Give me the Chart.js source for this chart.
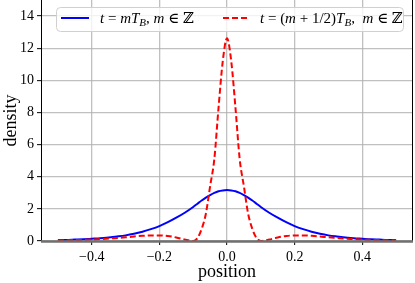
<!DOCTYPE html>
<html>
<head>
<meta charset="utf-8">
<script src="https://cdn.jsdelivr.net/npm/chart.js@4/dist/chart.umd.min.js"></script>
<style>
  html, body { margin: 0; padding: 0; background: #fff; }
  #wrap { width: 415px; height: 283px; }
</style>
</head>
<body>
<div id="wrap"><canvas id="chart" width="415" height="283"></canvas></div>
<script>
// ── Data ─────────────────────────────────────────────────────────────────
const positions = [
  -0.5, -0.475, -0.45, -0.425, -0.4, -0.375, -0.35, -0.325, -0.3, -0.275,
  -0.25, -0.225, -0.2, -0.175, -0.15, -0.125, -0.1, -0.0875, -0.075, -0.0625,
  -0.05, -0.0375, -0.025, -0.0125, 0,
  0.0125, 0.025, 0.0375, 0.05, 0.0625, 0.075, 0.0875, 0.1, 0.125, 0.15,
  0.175, 0.2, 0.225, 0.25, 0.275, 0.3, 0.325, 0.35, 0.375, 0.4,
  0.425, 0.45, 0.475, 0.5
];

// t = m T_B
const densityWhole = [
  0.06, 0.07, 0.09, 0.11, 0.14, 0.17, 0.22, 0.28, 0.35, 0.45,
  0.58, 0.74, 0.93, 1.17, 1.45, 1.76, 2.12, 2.32, 2.52, 2.70,
  2.86, 3.00, 3.10, 3.15, 3.17,
  3.15, 3.10, 3.00, 2.86, 2.70, 2.52, 2.32, 2.12, 1.76, 1.45,
  1.17, 0.93, 0.74, 0.58, 0.45, 0.35, 0.28, 0.22, 0.17, 0.14,
  0.11, 0.09, 0.07, 0.06
];

// t = (m + 1/2) T_B
const densityHalf = [
  0.04, 0.05, 0.06, 0.07, 0.09, 0.12, 0.15, 0.19, 0.23, 0.28,
  0.32, 0.35, 0.35, 0.31, 0.22, 0.09, 0.00, 0.18, 0.75, 1.70,
  3.40, 5.10, 8.30, 11.20, 12.62,
  11.20, 8.30, 5.10, 3.40, 1.70, 0.75, 0.18, 0.00, 0.09, 0.22,
  0.31, 0.35, 0.35, 0.32, 0.28, 0.23, 0.19, 0.15, 0.12, 0.09,
  0.07, 0.06, 0.05, 0.04
];

const xTicks = [-0.4, -0.2, 0.0, 0.2, 0.4];
const yTicks = [0, 2, 4, 6, 8, 10, 12, 14];

const SERIF = '"Liberation Serif", "DejaVu Serif", serif';
const GRID = 'rgba(176,176,176,0.8)';

// ── Frame (spines) drawn over the grid ─────────────────────────────────────
const spines = {
  id: 'spines',
  afterDatasetsDraw(chart) {
    const { ctx, chartArea: a } = chart;
    ctx.save();
    ctx.strokeStyle = '#000';
    ctx.lineWidth = 1;
    ctx.beginPath();
    ctx.moveTo(a.left + 0.5, a.top);
    ctx.lineTo(a.left + 0.5, a.bottom);
    ctx.moveTo(a.right - 0.5, a.top);
    ctx.lineTo(a.right - 0.5, a.bottom);
    ctx.stroke();
    ctx.strokeStyle = '#707070';
    ctx.lineWidth = 2.5;
    ctx.beginPath();
    ctx.moveTo(a.left, a.bottom + 0.5);
    ctx.lineTo(a.right, a.bottom + 0.5);
    ctx.stroke();
    ctx.restore();
  }
};

// ── Legend with math text (italic, subscript) ─────────────────────────────
function drawMath(ctx, x, y, parts) {
  parts.forEach(p => {
    const size = p.sub ? 11 : 15;
    ctx.font = `${p.it ? 'italic ' : ''}${size}px ${SERIF}`;
    ctx.fillText(p.t, x, y + (p.sub ? 3 : 0));
    x += ctx.measureText(p.t).width;
  });
  return x;
}

const mathLegend = {
  id: 'mathLegend',
  afterDraw(chart) {
    const ctx = chart.ctx;
    ctx.save();
    // box
    ctx.beginPath();
    ctx.roundRect(56.5, 7.5, 347, 24, 4);
    ctx.fillStyle = 'rgba(255,255,255,0.8)';
    ctx.fill();
    ctx.strokeStyle = '#d0d0d0';
    ctx.lineWidth = 1;
    ctx.stroke();

    // line samples
    ctx.lineWidth = 2;
    ctx.strokeStyle = '#0000ff';
    ctx.beginPath();
    ctx.moveTo(61, 18); ctx.lineTo(89, 18);
    ctx.stroke();
    ctx.strokeStyle = '#ff0000';
    ctx.setLineDash([6, 3]);
    ctx.beginPath();
    ctx.moveTo(223, 18); ctx.lineTo(250, 18);
    ctx.stroke();
    ctx.setLineDash([]);

    ctx.fillStyle = '#000';
    ctx.textBaseline = 'alphabetic';
    ctx.textAlign = 'left';
    drawMath(ctx, 100, 23, [
      { t: 't', it: true }, { t: ' = ' }, { t: 'mT', it: true }, { t: 'B', it: true, sub: true },
      { t: ', ' }, { t: 'm', it: true }, { t: ' ∈ ' }, { t: 'ℤ' }
    ]);
    drawMath(ctx, 260, 23, [
      { t: 't', it: true }, { t: ' = (' }, { t: 'm', it: true }, { t: ' + 1/2)' },
      { t: 'T', it: true }, { t: 'B', it: true, sub: true },
      { t: ',  ' }, { t: 'm', it: true }, { t: ' ∈ ' }, { t: 'ℤ' }
    ]);
    ctx.restore();
  }
};

const fmtX = v => (v < 0 ? '\u2212' : '') + Math.abs(v).toFixed(1);

new Chart(document.getElementById('chart'), {
  type: 'line',
  data: {
    datasets: [
      {
        label: 't = mT_B',
        data: positions.map((x, i) => ({ x, y: densityWhole[i] })),
        borderColor: '#0000ff',
        borderWidth: 2,
        pointRadius: 0,
        cubicInterpolationMode: 'monotone',
        order: 1,
      },
      {
        label: 't = (m+1/2)T_B',
        data: positions.map((x, i) => ({ x, y: densityHalf[i] })),
        borderColor: '#ff0000',
        borderWidth: 2,
        borderDash: [6, 3],
        pointRadius: 0,
        cubicInterpolationMode: 'monotone',
        order: 0,
      },
    ],
  },
  options: {
    responsive: false,
    animation: false,
    devicePixelRatio: 1,
    layout: { padding: { left: 0, right: 2, top: 0, bottom: 0 } },
    scales: {
      x: {
        type: 'linear',
        min: -0.55, max: 0.55,
        afterBuildTicks: s => { s.ticks = xTicks.map(v => ({ value: v })); },
        afterFit: s => { s.height = 42; s.paddingLeft = 0; s.paddingRight = 0; },
        ticks: { color: '#000', font: { family: SERIF, size: 14 }, padding: 4, callback: fmtX, maxRotation: 0 },
        grid: { color: GRID, lineWidth: 1.3, tickLength: 4, tickColor: '#000', tickWidth: 1 },
        border: { display: false },
        title: { display: true, text: 'position', color: '#000', font: { family: SERIF, size: 18, lineHeight: 1.05 }, padding: { top: 0, bottom: 1 } },
      },
      y: {
        min: 0, max: 15,
        afterBuildTicks: s => { s.ticks = yTicks.map(v => ({ value: v })); },
        afterFit: s => { s.width = 41; s.paddingTop = 0; s.paddingBottom = 0; },
        ticks: { color: '#000', font: { family: SERIF, size: 14 }, padding: 3, callback: v => String(v) },
        grid: { color: GRID, lineWidth: 1.3, tickLength: 4, tickColor: '#000', tickWidth: 1 },
        border: { display: false },
        title: { display: true, text: 'density', color: '#000', font: { family: SERIF, size: 18 }, padding: { top: 0, bottom: 0 } },
      },
    },
    plugins: {
      legend: { display: false },
      tooltip: { enabled: false },
    },
  },
  plugins: [spines, mathLegend],
});
</script>
</body>
</html>
